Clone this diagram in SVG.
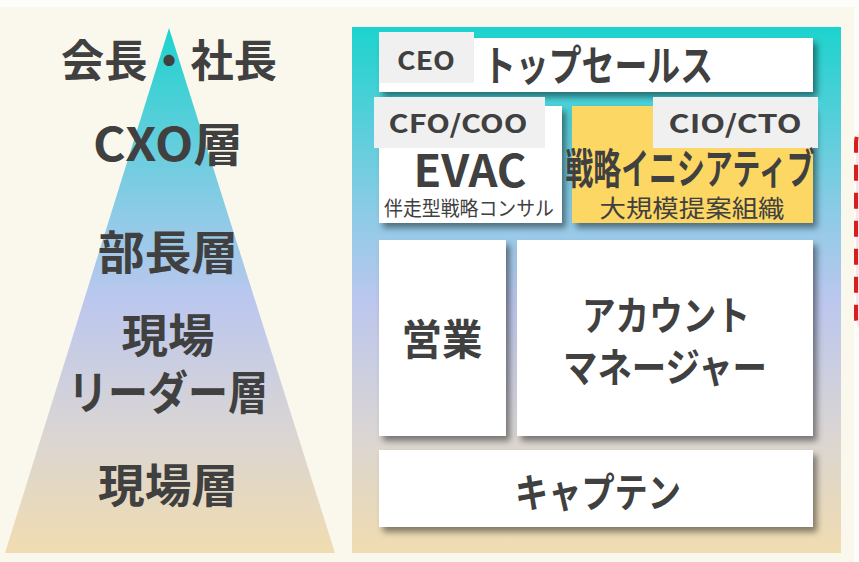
<svg xmlns="http://www.w3.org/2000/svg" width="859" height="562" viewBox="0 0 859 562">
<defs>
<linearGradient id="grad" gradientUnits="userSpaceOnUse" x1="0" y1="28" x2="0" y2="553">
<stop offset="0" stop-color="#1dd3cd"/>
<stop offset="0.35" stop-color="#8ccbe6"/>
<stop offset="0.52" stop-color="#bcc7ee"/>
<stop offset="0.76" stop-color="#d9d5d5"/>
<stop offset="1" stop-color="#f0dcb0"/>
</linearGradient>
<filter id="sh" x="-10%" y="-10%" width="125%" height="130%">
<feDropShadow dx="4" dy="5" stdDeviation="3" flood-color="#000" flood-opacity="0.45"/>
</filter>
<style>
text{font-family:"Noto Sans CJK JP","Noto Sans",sans-serif;fill:#404040;text-anchor:middle}
.b{font-weight:700}
.box{fill:#fff;filter:url(#sh)}
.lbl{fill:#f0f0f0}
</style>
</defs>
<rect x="0" y="0" width="859" height="562" fill="#fdfdf9"/>
<rect x="0" y="7" width="854" height="555" fill="#faf8ec"/>
<rect x="856" y="117" width="60" height="226" rx="26" fill="#fbe5e8" stroke="#d42020" stroke-width="4" stroke-dasharray="16 12"/>

<g id="pyramid">
<polygon points="169,28 335,553 5,553" fill="url(#grad)"/>
<text class="b" x="169" y="77" font-size="44" textLength="216" lengthAdjust="spacingAndGlyphs">会長・社長</text>
<text class="b" x="168" y="161" font-size="46" textLength="150" lengthAdjust="spacingAndGlyphs">CXO層</text>
<text class="b" x="168" y="269" font-size="46" textLength="140" lengthAdjust="spacingAndGlyphs">部長層</text>
<text class="b" x="168" y="352" font-size="46" textLength="93" lengthAdjust="spacingAndGlyphs">現場</text>
<text class="b" x="168" y="409" font-size="46" textLength="200" lengthAdjust="spacingAndGlyphs">リーダー層</text>
<text class="b" x="168" y="502" font-size="46" textLength="140" lengthAdjust="spacingAndGlyphs">現場層</text>
</g>

<rect id="panel" x="352" y="27" width="489" height="526" fill="url(#grad)"/>

<g id="ceo">
<rect class="box" x="379" y="38" width="434" height="54"/>
<rect class="lbl" x="379" y="32" width="95" height="51"/>
<text class="b" x="426" y="70" font-size="25" textLength="58" lengthAdjust="spacingAndGlyphs">CEO</text>
<text class="b" x="598" y="81" font-size="42" textLength="230" lengthAdjust="spacingAndGlyphs">トップセールス</text>
</g>

<g id="evac">
<rect class="box" x="379" y="106" width="183" height="117"/>
<rect class="lbl" x="374" y="97" width="171" height="51"/>
<text class="b" x="458" y="133" font-size="25" textLength="139" lengthAdjust="spacingAndGlyphs">CFO/COO</text>
<text class="b" x="470" y="187" font-size="44" textLength="113" lengthAdjust="spacingAndGlyphs">EVAC</text>
<text x="469" y="216" font-size="20" textLength="170" lengthAdjust="spacingAndGlyphs">伴走型戦略コンサル</text>
</g>

<g id="initiative">
<rect class="box" x="572" y="106" width="241" height="117" style="fill:#fdd764"/>
<rect class="lbl" x="653" y="97" width="165" height="51"/>
<text class="b" x="735" y="133" font-size="25" textLength="133" lengthAdjust="spacingAndGlyphs">CIO/CTO</text>
<text class="b" x="690" y="184" font-size="42" textLength="249" lengthAdjust="spacingAndGlyphs">戦略イニシアティブ</text>
<text x="692" y="217" font-size="24" textLength="185" lengthAdjust="spacingAndGlyphs">大規模提案組織</text>
</g>

<g id="sales">
<rect class="box" x="379" y="240" width="127" height="196"/>
<text class="b" x="442" y="355" font-size="42" textLength="81" lengthAdjust="spacingAndGlyphs">営業</text>
</g>

<g id="account">
<rect class="box" x="517" y="240" width="296" height="196"/>
<text class="b" x="666" y="330" font-size="40" textLength="168" lengthAdjust="spacingAndGlyphs">アカウント</text>
<text class="b" x="665" y="382" font-size="40" textLength="204" lengthAdjust="spacingAndGlyphs">マネージャー</text>
</g>

<g id="captain">
<rect class="box" x="379" y="450" width="434" height="77"/>
<text class="b" x="598" y="507" font-size="40" textLength="166" lengthAdjust="spacingAndGlyphs">キャプテン</text>
</g>

<g id="connectors"></g>
</svg>
